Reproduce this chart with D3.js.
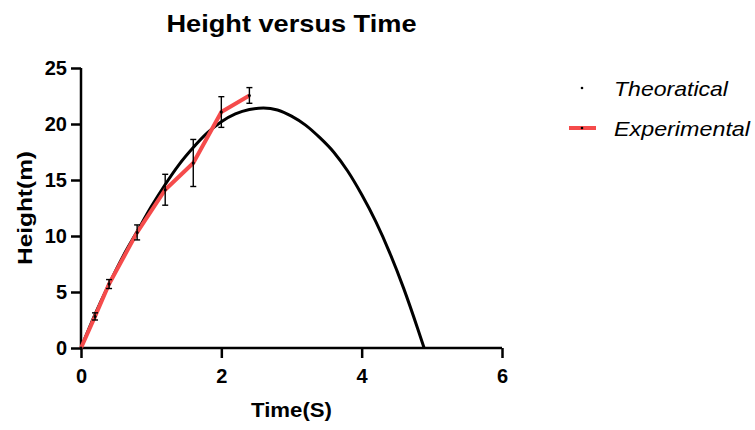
<!DOCTYPE html>
<html>
<head>
<meta charset="utf-8">
<script src="https://cdn.jsdelivr.net/npm/d3@7"></script>
<style>
  body { margin: 0; background: #fff; }
  svg { font-family: "Liberation Sans", Arial, sans-serif; }
</style>
</head>
<body>
<svg id="chart" width="755" height="430"></svg>
<script>
// theoretical curve
const theoTime = [0, 0.2, 0.4, 0.6, 0.8, 1.0, 1.2, 1.4, 1.6, 1.8, 2.0, 2.2, 2.4, 2.6, 2.8, 3.0, 3.2, 3.4, 3.6, 3.8, 4.0, 4.2, 4.4, 4.6, 4.8, 4.89];
const theoHeight = [0, 3.0, 5.7, 8.2, 10.4, 12.6, 14.6, 16.4, 17.9, 19.2, 20.2, 20.9, 21.3, 21.43, 21.25, 20.7, 19.9, 18.8, 17.5, 15.8, 13.7, 11.3, 8.5, 5.3, 1.7, 0];

// experimental points with error
const expTime = [0, 0.2, 0.4, 0.8, 1.2, 1.6, 2.0, 2.4];
const expHeight = [0, 2.82, 5.71, 10.32, 14.13, 16.52, 21.07, 22.55];
const expErr = [0, 0.32, 0.4, 0.67, 1.38, 2.1, 1.37, 0.7];

const xTicks = [0, 2, 4, 6];
const yTicks = [0, 5, 10, 15, 20, 25];
const legendNames = ["Theoratical", "Experimental"];

const margin = { left: 81, right: 253, top: 68, bottom: 82 };
const svg = d3.select("#chart");
const W = 755, H = 430;

const x = d3.scaleLinear().domain([0, 6]).range([margin.left, W - margin.right]);
const y = d3.scaleLinear().domain([0, 25]).range([H - margin.bottom, margin.top]);

const red = "#f54b4b";

// title
svg.append("text")
  .attr("x", (x(0) + x(6)) / 2)
  .attr("y", 32)
  .attr("text-anchor", "middle")
  .attr("font-size", 24)
  .attr("font-weight", "bold")
  .attr("textLength", 250)
  .attr("lengthAdjust", "spacingAndGlyphs")
  .text("Height versus Time");

// axes
const xAxis = svg.append("g")
  .attr("transform", "translate(0," + y(0) + ")")
  .call(d3.axisBottom(x).tickValues(xTicks).tickSize(10).tickPadding(11).tickFormat(d3.format("d")));
const yAxis = svg.append("g")
  .attr("transform", "translate(" + x(0) + ",0)")
  .call(d3.axisLeft(y).tickValues(yTicks).tickSize(10).tickPadding(4).tickFormat(d3.format("d")));

[xAxis, yAxis].forEach((g) => {
  g.select(".domain").attr("stroke", "#000").attr("stroke-width", 2.5);
  g.selectAll(".tick line").attr("stroke", "#000").attr("stroke-width", 2.5);
  g.selectAll(".tick text")
    .attr("font-size", 20)
    .attr("font-weight", "bold")
    .attr("fill", "#000")
    .attr("font-family", "Liberation Sans, Arial, sans-serif");
});
// remove outer tick stubs from the domain path
xAxis.select(".domain").attr("d", "M" + x(0) + ",0H" + x(6));
yAxis.select(".domain").attr("d", "M0," + y(0) + "V" + y(25));

// axis titles
svg.append("text")
  .attr("x", (x(0) + x(6)) / 2)
  .attr("y", 417)
  .attr("text-anchor", "middle")
  .attr("font-size", 21)
  .attr("font-weight", "bold")
  .attr("textLength", 81)
  .attr("lengthAdjust", "spacingAndGlyphs")
  .text("Time(S)");

svg.append("text")
  .attr("transform", "translate(32," + (y(0) + y(25)) / 2 + ") rotate(-90)")
  .attr("text-anchor", "middle")
  .attr("font-size", 21)
  .attr("font-weight", "bold")
  .attr("textLength", 114)
  .attr("lengthAdjust", "spacingAndGlyphs")
  .text("Height(m)");

// theoretical curve
const theo = theoTime.map((t, i) => ({ t: t, h: theoHeight[i] }));
svg.append("path")
  .datum(theo)
  .attr("fill", "none")
  .attr("stroke", "#000")
  .attr("stroke-width", 3)
  .attr("d", d3.line().x((d) => x(d.t)).y((d) => y(d.h)).curve(d3.curveMonotoneX));

// experimental line
const exp = expTime.map((t, i) => ({ t: t, h: expHeight[i], e: expErr[i] }));
svg.append("path")
  .datum(exp)
  .attr("fill", "none")
  .attr("stroke", red)
  .attr("stroke-width", 4)
  .attr("stroke-linejoin", "round")
  .attr("d", d3.line().x((d) => x(d.t)).y((d) => y(d.h)));

// error bars
const bars = svg.append("g").selectAll("g")
  .data(exp.filter((d) => d.e > 0))
  .enter()
  .append("g")
  .attr("stroke", "#000")
  .attr("stroke-width", 1.4);
bars.append("line")
  .attr("x1", (d) => x(d.t)).attr("x2", (d) => x(d.t))
  .attr("y1", (d) => y(d.h - d.e)).attr("y2", (d) => y(d.h + d.e));
bars.append("line")
  .attr("x1", (d) => x(d.t) - 3).attr("x2", (d) => x(d.t) + 3)
  .attr("y1", (d) => y(d.h + d.e)).attr("y2", (d) => y(d.h + d.e));
bars.append("line")
  .attr("x1", (d) => x(d.t) - 3).attr("x2", (d) => x(d.t) + 3)
  .attr("y1", (d) => y(d.h - d.e)).attr("y2", (d) => y(d.h - d.e));

// points
svg.append("g").selectAll("circle")
  .data(exp)
  .enter()
  .append("circle")
  .attr("cx", (d) => x(d.t))
  .attr("cy", (d) => y(d.h))
  .attr("r", 1.5)
  .attr("fill", "#000");

// legend
const legend = svg.append("g");
const ly = [88, 128];
const legendWidths = [114, 136];
legend.append("circle").attr("cx", 582).attr("cy", ly[0]).attr("r", 1.3).attr("fill", "#000");
legend.append("line")
  .attr("x1", 569).attr("x2", 596)
  .attr("y1", ly[1]).attr("y2", ly[1])
  .attr("stroke", red).attr("stroke-width", 4);
legend.append("circle").attr("cx", 582).attr("cy", ly[1]).attr("r", 1.3).attr("fill", "#000");
legendNames.forEach((name, i) => {
  legend.append("text")
    .attr("x", 614)
    .attr("y", ly[i] + 8)
    .attr("font-size", 21)
    .attr("font-style", "italic")
    .attr("textLength", legendWidths[i])
    .attr("lengthAdjust", "spacingAndGlyphs")
    .text(name);
});
</script>
</body>
</html>
